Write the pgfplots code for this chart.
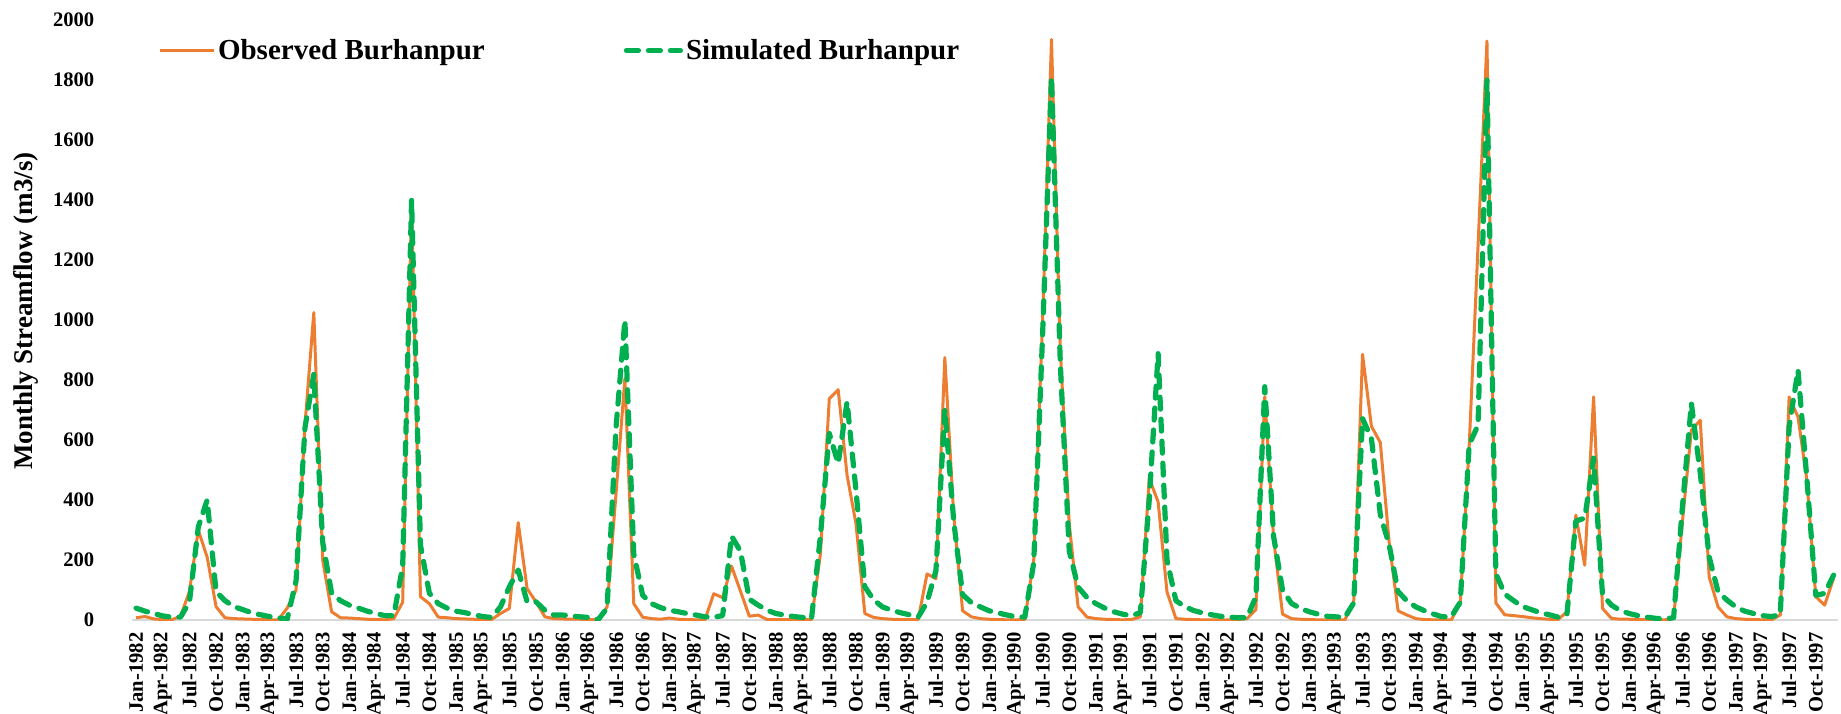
\documentclass[border=0pt]{standalone}
\usepackage{pgfplots}
\usepackage{pgfplotstable}
\pgfplotsset{compat=1.18}
\usepackage{fontspec}
\setmainfont{Liberation Serif}
\definecolor{obsorange}{HTML}{ED7D31}
\definecolor{simgreen}{HTML}{00B050}
\pgfplotstableread{
m o s
0 8 40
1 12 30
2 4 22
3 2 14
4 1 10
5 13 10
6 95 60
7 300 310
8 210 400
9 45 95
10 8 65
11 5 45
12 4 35
13 3 25
14 2 18
15 1 12
16 1 8
17 40 3
18 100 130
19 650 640
20 1025 820
21 200 260
22 28 90
23 8 65
24 7 50
25 5 40
26 3 30
27 2 22
28 1 15
29 5 15
30 60 180
31 1390 1400
32 78 250
33 55 90
34 10 55
35 8 40
36 5 30
37 4 25
38 3 18
39 2 12
40 2 9
41 22 44
42 39 111
43 325 167
44 105 61
45 61 61
46 11 33
47 5 17
48 4 17
49 3 14
50 3 11
51 2 9
52 1 2
53 44 40
54 420 640
55 805 1000
56 55 220
57 10 83
58 5 55
59 3 42
60 7 33
61 3 28
62 2 22
63 1 17
64 1 11
65 88 10
66 75 15
67 180 280
68 97 230
69 13 70
70 17 50
71 2 33
72 2 22
73 2 17
74 1 12
75 1 9
76 2 5
77 220 280
78 738 622
79 768 522
80 483 727
81 322 433
82 22 111
83 9 67
84 5 44
85 3 33
86 2 25
87 2 18
88 2 10
89 154 60
90 138 165
91 875 702
92 350 330
93 31 85
94 11 58
95 5 44
96 3 31
97 2 24
98 1 17
99 1 11
100 2 10
101 200 190
102 1000 950
103 1935 1810
104 900 850
105 320 230
106 44 110
107 10 75
108 5 55
109 3 40
110 2 28
111 1 20
112 2 15
113 11 25
114 472 400
115 394 888
116 94 200
117 5 65
118 3 45
119 2 32
120 1 24
121 1 18
122 1 13
123 1 10
124 2 8
125 5 8
126 35 78
127 745 778
128 270 278
129 20 100
130 5 56
131 3 39
132 2 28
133 1 20
134 1 13
135 1 11
136 1 9
137 57 57
138 886 672
139 646 605
140 592 352
141 258 250
142 31 95
143 17 64
144 5 44
145 2 31
146 1 20
147 1 11
148 1 12
149 60 60
150 580 585
151 1250 650
152 1930 1800
153 57 155
154 18 87
155 15 65
156 12 45
157 8 35
158 5 25
159 3 18
160 2 10
161 28 20
162 350 330
163 183 340
164 744 540
165 39 85
166 6 50
167 3 32
168 3 22
169 2 15
170 2 10
171 1 6
172 1 4
173 6 8
174 330 380
175 633 722
176 666 490
177 144 211
178 44 95
179 11 67
180 5 44
181 3 30
182 2 22
183 1 15
184 1 12
185 17 18
186 744 644
187 677 833
188 466 470
189 78 83
190 50 89
191 139 150
}\datatable
\begin{document}
\begin{tikzpicture}
\begin{axis}[
  scale only axis,
  width=853pt, height=300pt,
  xmin=-0.5, xmax=191.5,
  ymin=0, ymax=2000,
  axis x line*=bottom, axis y line*=left,
  x axis line style={draw=black!15, line width=1pt},
  y axis line style={draw=none},
  major tick length=0pt,
  ytick={0,200,...,2000},
  xtick={0,3,...,189},
  xticklabels={Jan-1982,Apr-1982,Jul-1982,Oct-1982,Jan-1983,Apr-1983,Jul-1983,Oct-1983,Jan-1984,Apr-1984,Jul-1984,Oct-1984,Jan-1985,Apr-1985,Jul-1985,Oct-1985,Jan-1986,Apr-1986,Jul-1986,Oct-1986,Jan-1987,Apr-1987,Jul-1987,Oct-1987,Jan-1988,Apr-1988,Jul-1988,Oct-1988,Jan-1989,Apr-1989,Jul-1989,Oct-1989,Jan-1990,Apr-1990,Jul-1990,Oct-1990,Jan-1991,Apr-1991,Jul-1991,Oct-1991,Jan-1992,Apr-1992,Jul-1992,Oct-1992,Jan-1993,Apr-1993,Jul-1993,Oct-1993,Jan-1994,Apr-1994,Jul-1994,Oct-1994,Jan-1995,Apr-1995,Jul-1995,Oct-1995,Jan-1996,Apr-1996,Jul-1996,Oct-1996,Jan-1997,Apr-1997,Jul-1997,Oct-1997},
  /pgf/number format/assume math mode=true,
  /pgf/number format/1000 sep={},
  yticklabel style={font=\bfseries\fontsize{10.3}{12}\selectfont, anchor=east, inner sep=0pt},
  yticklabel shift=18.5pt,
  xticklabel style={font=\bfseries\fontsize{10.3}{12}\selectfont, rotate=90, anchor=east, inner sep=0pt},
  xticklabel shift=6pt,
  ylabel={Monthly Streamflow (m3/s)},
  ylabel style={font=\bfseries\fontsize{13.5}{16}\selectfont, at={(axis description cs:-0.0621,0.515)}, anchor=center},
  legend columns=2,
  legend cell align=left,
  legend image code/.code={\draw[#1] (0pt,0pt) -- (27pt,0pt);},
  legend style={draw=none, fill=none, at={(axis description cs:0,1)}, anchor=north west,
    xshift=13pt, yshift=-7.8pt, inner sep=0pt,
    font=\bfseries\fontsize{14.5}{17}\selectfont,
    nodes={inner sep=1.5pt},
    /tikz/every even column/.append style={column sep=68pt}},
]
\addplot[color=obsorange, line width=1.5pt, line join=round] table[x=m, y=o] {\datatable};
\addlegendentry{Observed Burhanpur}
\addplot[color=simgreen, line width=2.6pt, line cap=round, dash pattern=on 6pt off 5pt, line join=round] table[x=m, y=s] {\datatable};
\addlegendentry{Simulated Burhanpur}
\end{axis}
\pgfresetboundingbox
\path ([shift={(-65.8pt,-46.5pt)}]current axis.south west) rectangle ([shift={(1.5pt,10pt)}]current axis.north east);
\end{tikzpicture}
\end{document}
